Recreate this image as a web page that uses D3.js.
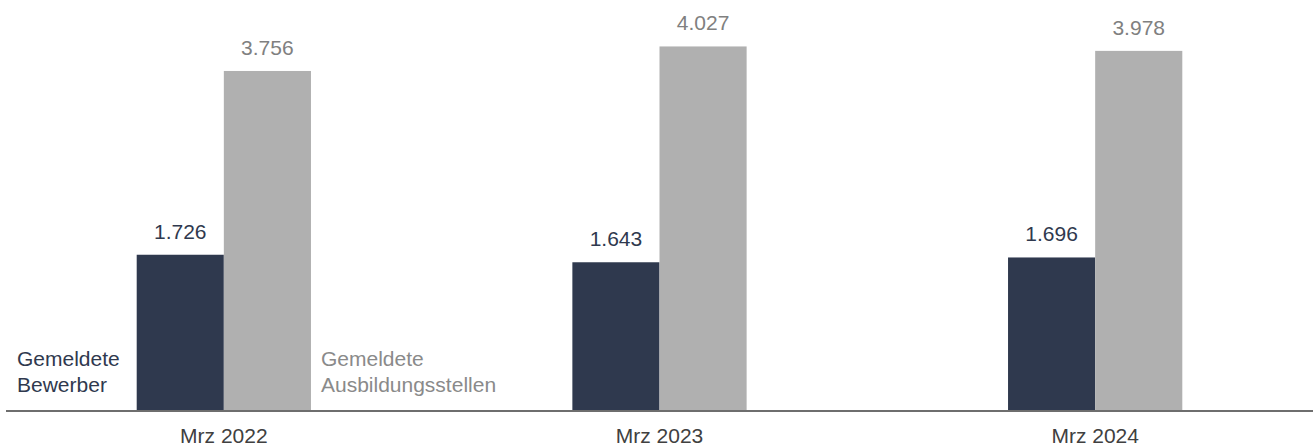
<!DOCTYPE html>
<html><head><meta charset="utf-8">
<script src="https://cdn.jsdelivr.net/npm/d3@7"></script>
<style>html,body{margin:0;padding:0;background:#fff;}svg{display:block;font-family:"Liberation Sans",Arial,sans-serif;}</style>
</head><body>
<svg id="chart" width="1316" height="448"></svg>
<script>
const categories = ["Mrz 2022", "Mrz 2023", "Mrz 2024"];
const seriesNames = ["Gemeldete Bewerber", "Gemeldete Ausbildungsstellen"];
const bewerber = [1726, 1643, 1696];
const stellen = [3756, 4027, 3978];
const valueLabels = [["1.726", "1.643", "1.696"], ["3.756", "4.027", "3.978"]];

const colors = ["#2f394e", "#b0b0b0"];
const labelColors = ["#2f394e", "#808080"];
const svg = d3.select("#chart");
const baseY = 411;

const x = d3.scaleBand().domain(categories).range([6, 1313]).paddingInner(0.6).paddingOuter(0.3);
const xs = d3.scaleBand().domain([0, 1]).range([0, x.bandwidth()]);
const y = d3.scaleLinear().domain([0, 4540]).range([baseY, 0]);

const series = [bewerber, stellen];
series.forEach((vals, si) => {
  const g = svg.append("g");
  g.selectAll("rect").data(vals).join("rect")
    .attr("x", (d, i) => x(categories[i]) + xs(si))
    .attr("y", d => y(d))
    .attr("width", xs.bandwidth())
    .attr("height", d => y(0) - y(d))
    .attr("fill", colors[si]);
  g.selectAll("text").data(vals).join("text")
    .attr("x", (d, i) => x(categories[i]) + xs(si) + xs.bandwidth() / 2)
    .attr("y", d => y(d) - 16)
    .attr("text-anchor", "middle")
    .attr("font-size", 21)
    .attr("fill", labelColors[si])
    .text((d, i) => valueLabels[si][i]);
});

// axis
const axis = d3.axisBottom(x).tickSize(0).tickPadding(20);
const ag = svg.append("g").attr("transform", `translate(0,${baseY})`).call(axis);
ag.select(".domain").attr("stroke", "#6e6e6e").attr("stroke-width", 2).attr("d", "M6,0H1313");
ag.selectAll("text").attr("font-size", 21).attr("fill", "#404040").attr("font-family", "Liberation Sans, Arial, sans-serif").attr("dy", "0.55em");

// legends
const leg1 = svg.append("text").attr("x", 17).attr("y", 366).attr("font-size", 21).attr("fill", "#2f394e");
leg1.append("tspan").attr("x", 17).text("Gemeldete");
leg1.append("tspan").attr("x", 17).attr("dy", 26).text("Bewerber");
const lx = x(categories[0]) + xs(1) + xs.bandwidth() + 10;
const leg2 = svg.append("text").attr("x", lx).attr("y", 366).attr("font-size", 21).attr("fill", "#8a8a8a");
leg2.append("tspan").attr("x", lx).text("Gemeldete");
leg2.append("tspan").attr("x", lx).attr("dy", 26).text("Ausbildungsstellen");
</script>
</body></html>
